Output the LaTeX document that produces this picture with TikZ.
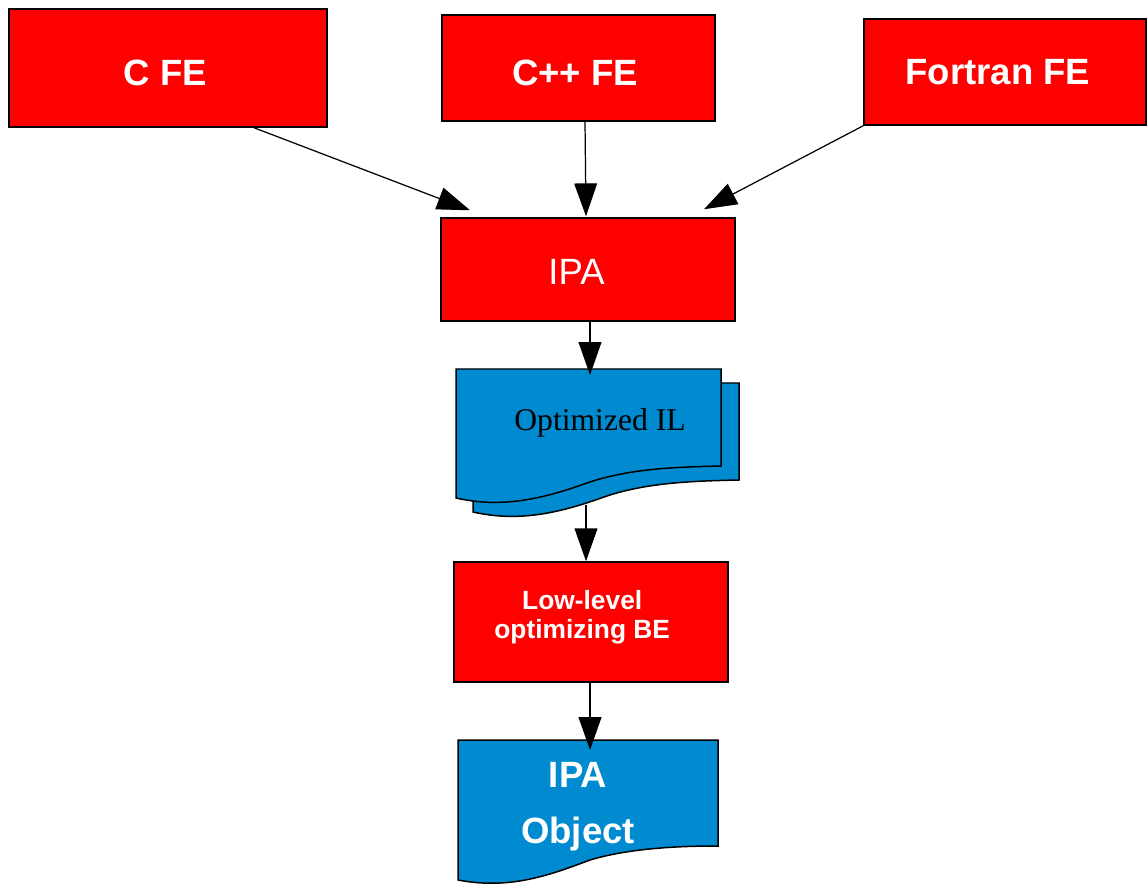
\documentclass[tikz,border=0pt]{standalone}
\usepackage{fontspec}
\setmainfont{Liberation Serif}
\setsansfont{Liberation Sans}
\usepackage{tikz}
\usetikzlibrary{arrows.meta, calc, positioning}
\definecolor{fered}{rgb}{1.0, 0.0, 0.0}
\definecolor{docblue}{rgb}{0.0, 0.54, 0.81}
\tikzstyle{stage} = [draw=black, fill=fered, line width=0.85pt, text=white, align=center, inner sep=0pt, font=\sffamily\bfseries\fontsize{20.8}{25}\selectfont]
\tikzstyle{doc} = [draw=black, fill=docblue, line width=0.85pt]
\tikzstyle{arrow} = [line width=0.7pt, -{Triangle[length=18.7pt,width=13pt]}]
% nudge a label inside its box without changing the box
\newcommand{\nudge}[2]{\raisebox{#1}[\height][\depth]{#2}}

\begin{document}
\begin{tikzpicture}[x=0.02cm, y=-0.02cm]
\useasboundingbox (0,0) rectangle (1148,884);

% front ends
\node[stage, minimum width=318*0.02cm, minimum height=118*0.02cm] (cfe) at (168,68) {\nudge{-2.8pt}{C FE}\kern 3pt};
\node[stage, minimum width=273*0.02cm, minimum height=106*0.02cm] (cppfe) at (578.5,68) {\nudge{-2.8pt}{C++ FE}\kern 4pt};
\node[stage, minimum width=282*0.02cm, minimum height=106*0.02cm] (fortfe) at (1005,72) {Fortran FE\kern 8pt};

% IPA
\node[
    stage,
    minimum width=294*0.02cm,
    minimum height=103*0.02cm,
    font=\sffamily\fontsize{20.8}{25}\selectfont
] (ipa) at (588,269.5) {\nudge{-1.2pt}{IPA}\kern 13pt};

% optimized IL, two stacked pages
\draw[doc] (473,383) -- (739,383) -- (739,480)
    .. controls (697,481) and (647,482) .. (604,497)
    .. controls (557,514) and (517,522) .. (473,512) -- cycle;
\draw[doc] (456,369) -- (721,369) -- (721,466)
    .. controls (680,467) and (630,468) .. (587,483)
    .. controls (540,500) and (500,508) .. (456,498) -- cycle;
\node[font=\fontsize{18}{22}\selectfont] (optil) at (600,423) {Optimized IL};
\coordinate (optiltop) at (590,375);
\coordinate (optilbot) at (586,505);

% back end
\node[
    stage,
    minimum width=274*0.02cm,
    minimum height=120*0.02cm,
    font=\sffamily\bfseries\fontsize{15}{17}\selectfont
] (lowbe) at (591,622) {\nudge{2.3pt}{\begin{tabular}{@{}c@{}}Low-level\\optimizing BE\end{tabular}}\kern 10pt};

% output object
\draw[doc] (458,740) -- (718,740) -- (718,846)
    .. controls (680,846) and (630,848) .. (590,860)
    .. controls (550,875) and (510,890) .. (458,880) -- cycle;
\node[
    text=white,
    align=center,
    font=\sffamily\bfseries\fontsize{20.8}{32}\selectfont
] (ipaobj) at (578,807) {IPA\\Object};
\coordinate (ipaobjtop) at (590,750);

% flow
\draw[arrow] ($(cfe.south)+(86,0)$) -- ($(ipa.north)+(-118,-7)$);
\draw[arrow] ($(cppfe.south)+(6.5,0)$) -- ($(ipa.north)+(-2,-1)$);
\draw[arrow] (fortfe.south west) -- ($(ipa.north)+(116,-8)$);
\draw[arrow] ($(ipa.south)+(2,0)$) -- (optiltop);
\draw[arrow] (optilbot) -- ($(lowbe.north)+(-5,0)$);
\draw[arrow] ($(lowbe.south)+(-1,0)$) -- (ipaobjtop);

\end{tikzpicture}
\end{document}
